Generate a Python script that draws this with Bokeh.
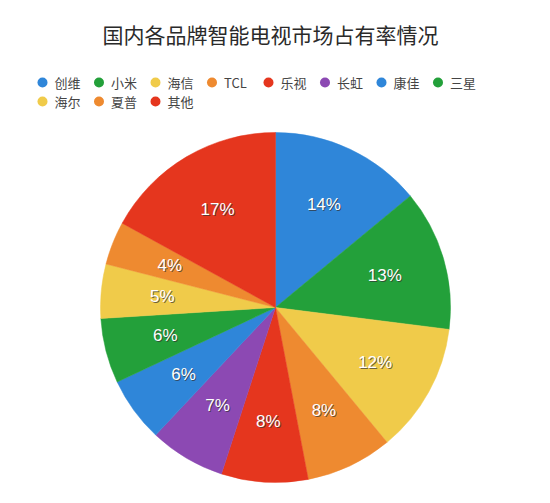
import math
from bokeh.plotting import figure
from bokeh.models import Range1d
from bokeh.core.properties import value
from bokeh.embed import file_html
from bokeh.resources import INLINE

title = "国内各品牌智能电视市场占有率情况"
brands = ["创维", "小米", "海信", "TCL", "乐视", "长虹", "康佳", "三星", "海尔", "夏普", "其他"]
shares = [14, 13, 12, 8, 8, 7, 6, 6, 5, 4, 17]
colors = ["#2f86d9", "#23a03a", "#f0cb4a", "#ee8a30", "#e5361e", "#8c49b3",
          "#2f86d9", "#23a03a", "#f0cb4a", "#ee8a30", "#e5361e"]

W, H = 550, 503
PW, PH = 534, 487
# data coords: x = picture pixel, y = H - picture pixel
p = figure(width=PW, height=PH, output_backend="svg", toolbar_location=None,
           x_range=Range1d(0, PW), y_range=Range1d(H - PH, H),
           min_border=0)
p.axis.visible = False
p.grid.visible = False
p.outline_line_color = None
p.background_fill_color = "white"

cx, cy, r = 275, H - 307, 175
total = sum(shares)
cum = 0.0
starts, ends, lx, ly = [], [], [], []
for s in shares:
    a0 = math.pi / 2 - 2 * math.pi * (cum + s) / total
    a1 = math.pi / 2 - 2 * math.pi * cum / total
    starts.append(a0)
    ends.append(a1)
    mid = (a0 + a1) / 2
    lx.append(cx + 0.65 * r * math.cos(mid))
    ly.append(cy + 0.65 * r * math.sin(mid))
    cum += s

p.wedge(x=[cx] * len(shares), y=[cy] * len(shares), radius=r,
        start_angle=starts, end_angle=ends, fill_color=colors,
        line_color=colors, line_width=0.5)

labels = [f"{s}%" for s in shares]
p.text(x=[v + 1 for v in lx], y=[v - 1 for v in ly], text=labels,
       text_font=value("Liberation Sans"), text_font_size="17px",
       text_color="#333333", text_alpha=0.7,
       text_align="center", text_baseline="middle")
p.text(x=lx, y=ly, text=labels,
       text_font=value("Liberation Sans"), text_font_size="17px",
       text_color="white", text_align="center", text_baseline="middle")

# title
p.text(x=[270], y=[H - 33], text=[title],
       text_font=value("Noto Sans CJK SC"), text_font_size="21px",
       text_color="#2a2a2a", text_align="center", text_baseline="middle")

# legend (flow layout)
mx, my, tx, ty = [], [], [], []
per_row = 8
for i, b in enumerate(brands):
    row, col = divmod(i, per_row)
    x0 = 42 + col * 56.5
    y0 = H - (82 + row * 19)
    mx.append(x0)
    my.append(y0)
    tx.append(x0 + 12)
    ty.append(y0)
p.scatter(x=mx, y=my, size=10, fill_color=colors, line_color=None)
p.text(x=tx, y=ty, text=brands, text_font=value("Noto Sans CJK SC"),
       text_font_size="13px", text_color="#444444",
       text_align="left", text_baseline="middle")

open("out.html", "w").write(file_html(p, INLINE))
